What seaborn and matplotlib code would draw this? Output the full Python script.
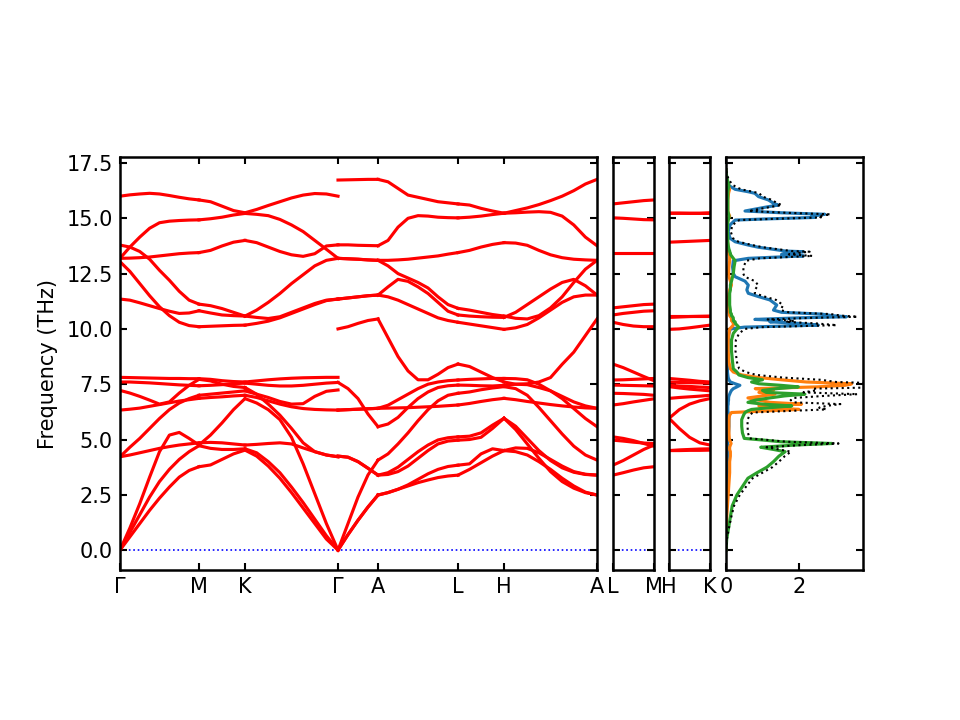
import matplotlib
matplotlib.use("Agg")
import matplotlib.pyplot as plt
import seaborn as sns
import pandas as pd
import numpy as np

# Chemin de bandes : longueurs des segments et étiquettes des points spéciaux
seg_main = [79, 46, 93, 40, 80, 46, 93]
labels_main = ["Γ", "M", "K", "Γ", "A", "L", "H", "A"]
seg_lm = [41]
labels_lm = ["L", "M"]
seg_hk = [41]
labels_hk = ["H", "K"]

# Fréquences (THz) lues sur chaque segment, une liste par branche
gamma_m = [
    [0, 0.6, 1.2, 1.8, 2.35, 2.85, 3.3, 3.6, 3.77],
    [0, 0.8, 1.6, 2.4, 3.1, 3.65, 4.1, 4.45, 4.72],
    [0, 1.0, 2.1, 3.3, 4.45, 5.2, 5.32, 5.05, 4.75],
    [4.22, 4.3, 4.4, 4.5, 4.6, 4.68, 4.75, 4.8, 4.85],
    [4.22, 4.65, 5.05, 5.5, 5.95, 6.35, 6.65, 6.85, 7.0],
    [6.33, 6.37, 6.42, 6.5, 6.58, 6.66, 6.74, 6.8, 6.86],
    [7.22, 7.1, 6.95, 6.78, 6.6, 6.7, 7.1, 7.45, 7.72],
    [7.6, 7.6, 7.58, 7.56, 7.53, 7.5, 7.47, 7.45, 7.43],
    [7.81, 7.8, 7.79, 7.78, 7.77, 7.76, 7.76, 7.75, 7.75],
    [11.35, 11.3, 11.18, 11.05, 10.92, 10.8, 10.7, 10.72, 10.82],
    [13.04, 12.6, 12.05, 11.5, 11.0, 10.6, 10.3, 10.15, 10.1],
    [13.79, 13.7, 13.5, 13.15, 12.65, 12.2, 11.7, 11.3, 11.12],
    [13.19, 13.2, 13.22, 13.25, 13.3, 13.35, 13.4, 13.43, 13.45],
    [13.19, 13.7, 14.15, 14.55, 14.8, 14.87, 14.9, 14.92, 14.93],
    [16.0, 16.06, 16.1, 16.13, 16.1, 16.03, 15.95, 15.88, 15.83],
]
m_k = [
    [3.77, 3.85, 4.1, 4.35, 4.52],
    [4.72, 4.6, 4.55, 4.55, 4.58],
    [4.75, 5.2, 5.75, 6.35, 6.85],
    [4.85, 4.87, 4.85, 4.8, 4.75],
    [7.0, 7.05, 7.1, 7.15, 7.2],
    [6.86, 6.9, 6.93, 6.97, 7.0],
    [7.72, 7.65, 7.5, 7.4, 7.35],
    [7.43, 7.45, 7.48, 7.52, 7.55],
    [7.75, 7.72, 7.66, 7.62, 7.6],
    [10.82, 10.72, 10.63, 10.6, 10.58],
    [10.1, 10.12, 10.14, 10.16, 10.17],
    [11.12, 11.05, 10.92, 10.75, 10.58],
    [13.45, 13.55, 13.75, 13.92, 14.0],
    [14.93, 14.98, 15.05, 15.15, 15.22],
    [15.83, 15.75, 15.55, 15.35, 15.25],
]
k_gamma = [
    [4.52, 4.25, 3.8, 3.25, 2.6, 1.9, 1.2, 0.5, 0],
    [4.58, 4.4, 4.0, 3.5, 2.85, 2.15, 1.4, 0.65, 0],
    [6.85, 6.65, 6.35, 5.9, 5.1, 3.9, 2.55, 1.2, 0],
    [4.75, 4.78, 4.82, 4.85, 4.8, 4.62, 4.45, 4.3, 4.22],
    [7.2, 7.05, 6.9, 6.72, 6.6, 6.62, 6.95, 7.18, 7.24],
    [7.0, 6.9, 6.75, 6.6, 6.48, 6.4, 6.36, 6.34, 6.33],
    [7.35, 7.05, 6.6, 6.1, 5.5, 4.85, 4.45, 4.3, 4.22],
    [7.55, 7.5, 7.45, 7.42, 7.42, 7.45, 7.5, 7.55, 7.58],
    [7.6, 7.65, 7.7, 7.74, 7.77, 7.79, 7.8, 7.81, 7.81],
    [10.58, 10.52, 10.47, 10.55, 10.75, 10.95, 11.15, 11.3, 11.35],
    [10.17, 10.25, 10.35, 10.5, 10.7, 10.9, 11.1, 11.28, 11.35],
    [10.58, 10.85, 11.2, 11.6, 12.05, 12.45, 12.85, 13.1, 13.19],
    [14.0, 13.9, 13.7, 13.5, 13.35, 13.28, 13.4, 13.75, 13.8],
    [15.22, 15.18, 15.12, 14.95, 14.7, 14.4, 14.0, 13.6, 13.19],
    [15.25, 15.4, 15.58, 15.75, 15.92, 16.05, 16.12, 16.1, 16.0],
]
gamma_a = [
    [0, 0.7, 1.35, 1.95, 2.49],
    [0, 0.7, 1.35, 1.95, 2.49],
    [0, 1.2, 2.4, 3.4, 4.07],
    [4.25, 4.2, 4.0, 3.7, 3.39],
    [4.25, 4.2, 4.0, 3.7, 3.39],
    [6.33, 6.35, 6.37, 6.39, 6.41],
    [6.33, 6.35, 6.37, 6.39, 6.41],
    [7.58, 7.3, 6.85, 6.15, 5.58],
    [10.0, 10.1, 10.25, 10.38, 10.45],
    [11.35, 11.4, 11.45, 11.5, 11.53],
    [11.35, 11.4, 11.45, 11.5, 11.53],
    [13.19, 13.17, 13.15, 13.12, 13.1],
    [13.19, 13.17, 13.15, 13.12, 13.1],
    [13.8, 13.8, 13.78, 13.77, 13.76],
    [16.73, 16.74, 16.75, 16.76, 16.76],
]
a_l = [
    [2.49, 2.6, 2.75, 2.9, 3.05, 3.17, 3.28, 3.35, 3.39],
    [2.49, 2.6, 2.75, 2.95, 3.2, 3.45, 3.65, 3.78, 3.84],
    [3.39, 3.42, 3.55, 3.8, 4.15, 4.5, 4.8, 4.93, 4.97],
    [3.39, 3.5, 3.75, 4.1, 4.45, 4.75, 4.98, 5.08, 5.12],
    [4.07, 4.35, 4.8, 5.3, 5.85, 6.35, 6.75, 7.0, 7.09],
    [5.58, 5.7, 6.0, 6.45, 6.85, 7.15, 7.35, 7.43, 7.46],
    [6.41, 6.42, 6.43, 6.44, 6.46, 6.48, 6.5, 6.53, 6.56],
    [6.41, 6.55, 6.8, 7.05, 7.3, 7.5, 7.6, 7.66, 7.69],
    [10.45, 9.6, 8.75, 8.1, 7.7, 7.7, 7.95, 8.25, 8.41],
    [11.53, 11.45, 11.3, 11.1, 10.9, 10.7, 10.5, 10.38, 10.3],
    [11.53, 11.9, 12.24, 12.15, 11.9, 11.6, 11.2, 10.8, 10.63],
    [13.1, 12.85, 12.5, 12.3, 12.1, 11.85, 11.45, 11.1, 10.93],
    [13.1, 13.1, 13.12, 13.15, 13.2, 13.25, 13.3, 13.38, 13.45],
    [13.76, 14.0, 14.6, 15.0, 15.12, 15.1, 15.05, 15.03, 15.02],
    [16.76, 16.65, 16.35, 16.05, 15.95, 15.85, 15.75, 15.7, 15.65],
]
l_h = [
    [3.39, 3.65, 3.95, 4.25, 4.5],
    [3.84, 3.9, 4.35, 4.58, 4.5],
    [4.97, 5.0, 5.1, 5.5, 5.96],
    [5.12, 5.15, 5.3, 5.65, 5.96],
    [6.56, 6.63, 6.72, 6.8, 6.86],
    [7.09, 7.15, 7.25, 7.33, 7.39],
    [7.46, 7.45, 7.43, 7.42, 7.45],
    [7.69, 7.72, 7.74, 7.76, 7.76],
    [8.41, 8.3, 8.05, 7.8, 7.6],
    [10.3, 10.22, 10.14, 10.06, 9.98],
    [10.63, 10.58, 10.55, 10.53, 10.52],
    [10.93, 10.85, 10.75, 10.65, 10.58],
    [13.45, 13.55, 13.7, 13.82, 13.9],
    [15.02, 15.05, 15.1, 15.17, 15.23],
    [15.65, 15.6, 15.45, 15.33, 15.23],
]
h_a = [
    [4.5, 4.45, 4.3, 4.0, 3.65, 3.25, 2.9, 2.62, 2.49],
    [4.5, 4.62, 4.6, 4.4, 4.1, 3.8, 3.55, 3.43, 3.39],
    [5.96, 5.45, 4.8, 4.15, 3.55, 3.1, 2.8, 2.6, 2.49],
    [5.96, 5.6, 5.05, 4.5, 4.05, 3.72, 3.52, 3.42, 3.39],
    [6.86, 6.8, 6.72, 6.65, 6.58, 6.52, 6.47, 6.43, 6.41],
    [7.39, 7.3, 7.0, 6.45, 5.85, 5.25, 4.7, 4.3, 4.07],
    [7.45, 7.5, 7.48, 7.35, 7.2, 6.85, 6.4, 5.95, 5.58],
    [7.76, 7.75, 7.7, 7.5, 7.2, 6.95, 6.7, 6.52, 6.41],
    [7.6, 7.5, 7.52, 7.6, 7.8, 8.4, 8.95, 9.7, 10.45],
    [9.98, 10.05, 10.2, 10.5, 10.85, 11.2, 11.45, 11.53, 11.53],
    [10.52, 10.75, 11.1, 11.45, 11.8, 12.1, 12.24, 11.95, 11.53],
    [10.58, 10.48, 10.45, 10.6, 10.95, 11.45, 12.1, 12.7, 13.1],
    [13.9, 13.88, 13.78, 13.55, 13.35, 13.22, 13.15, 13.12, 13.1],
    [15.23, 15.25, 15.28, 15.3, 15.27, 15.1, 14.7, 14.15, 13.76],
    [15.23, 15.35, 15.47, 15.62, 15.8, 16.0, 16.25, 16.55, 16.76],
]
l_m = [
    [3.39, 3.5, 3.62, 3.72, 3.77],
    [3.84, 4.05, 4.3, 4.55, 4.75],
    [4.97, 4.93, 4.88, 4.84, 4.82],
    [5.12, 5.05, 4.95, 4.82, 4.7],
    [6.56, 6.62, 6.7, 6.77, 6.84],
    [7.09, 7.08, 7.06, 7.04, 7.0],
    [7.46, 7.45, 7.44, 7.43, 7.42],
    [7.69, 7.7, 7.72, 7.74, 7.76],
    [8.41, 8.25, 8.05, 7.85, 7.66],
    [10.3, 10.2, 10.13, 10.1, 10.1],
    [10.63, 10.7, 10.75, 10.8, 10.82],
    [10.95, 11.0, 11.05, 11.1, 11.12],
    [13.45, 13.45, 13.45, 13.45, 13.45],
    [15.02, 15.0, 14.97, 14.94, 14.93],
    [15.65, 15.7, 15.75, 15.8, 15.83],
]
h_k = [
    [4.5, 4.5, 4.51, 4.51, 4.52],
    [4.5, 4.53, 4.55, 4.57, 4.58],
    [5.96, 5.5, 5.1, 4.85, 4.75],
    [5.96, 6.35, 6.6, 6.75, 6.85],
    [6.86, 6.9, 6.93, 6.96, 7.0],
    [7.39, 7.33, 7.28, 7.24, 7.2],
    [7.45, 7.42, 7.4, 7.37, 7.35],
    [7.6, 7.58, 7.57, 7.56, 7.55],
    [7.76, 7.72, 7.68, 7.63, 7.6],
    [9.98, 10.0, 10.05, 10.11, 10.17],
    [10.52, 10.54, 10.56, 10.57, 10.58],
    [10.58, 10.58, 10.58, 10.58, 10.58],
    [13.92, 13.94, 13.96, 13.98, 14.0],
    [15.23, 15.23, 15.22, 15.22, 15.22],
    [15.23, 15.23, 15.23, 15.23, 15.25],
]

# Densité d'états partielle (3 espèces) sur une grille de fréquences
dos_freq = [0.0, 0.5, 1.0, 1.5, 2.0, 2.5, 3.0, 3.25, 3.5, 3.75, 4.0, 4.25, 4.45,
            4.55, 4.65, 4.75, 4.82, 4.9, 4.97, 5.05, 5.3, 5.6, 5.9, 6.1, 6.22,
            6.3, 6.36, 6.44, 6.52, 6.6, 6.68, 6.78, 6.88, 6.97, 7.05, 7.13,
            7.22, 7.3, 7.38, 7.45, 7.52, 7.6, 7.7, 7.8, 7.92, 8.05, 8.2, 8.5,
            9.0, 9.5, 9.8, 10.0, 10.08, 10.17, 10.25, 10.32, 10.37, 10.43, 10.5,
            10.55, 10.6, 10.67, 10.75, 10.85, 11.08, 11.31, 11.46, 11.61, 11.76,
            11.98, 12.16, 12.36, 12.51, 12.8, 13.08, 13.19, 13.3, 13.37, 13.42,
            13.49, 13.52, 13.61, 13.69, 13.79, 13.94, 14.1, 14.4, 14.7, 14.92,
            14.97, 15.04, 15.1, 15.18, 15.25, 15.33, 15.5, 15.6, 15.68, 15.83,
            15.98, 16.13, 16.2, 16.31, 16.5, 16.73, 17.0, 17.2]
dos_sp1 = [0, 0, 0, 0.005, 0.01, 0.02, 0.03, 0.04, 0.05, 0.05, 0.05, 0.04, 0.04,
           0.05, 0.06, 0.05, 0.04, 0.04, 0.05, 0.06, 0.07, 0.08, 0.08, 0.07, 0.06,
           0.05, 0.05, 0.05, 0.05, 0.06, 0.06, 0.07, 0.07, 0.08, 0.1, 0.12,
           0.15, 0.2, 0.3, 0.38, 0.25, 0.12, 0.08, 0.06, 0.05, 0.04, 0.04, 0.04,
           0.05, 0.06, 0.08, 0.12, 0.5, 2.53, 2.0, 1.2, 1.52, 0.79, 2.0,
           3.3, 2.9, 2.62, 1.52, 1.3, 1.39, 1.2, 0.89, 0.61, 0.57,
           0.61, 0.52, 0.25, 0.2, 0.18, 0.2, 0.61, 2.12, 1.52, 1.71,
           2.12, 1.62, 1.25, 0.89, 0.61, 0.25, 0.11, 0.06, 0.11, 0.25,
           1.07, 2.44, 2.35, 2.71, 1.52, 0.52, 1.07, 1.43, 1.3, 1.16,
           0.89, 0.79, 0.61, 0.25, 0.06, 0.02, 0.005, 0]
dos_sp2 = [0, 0.005, 0.01, 0.02, 0.04, 0.06, 0.08, 0.09, 0.1, 0.1, 0.1, 0.12, 0.12,
           0.1, 0.1, 0.12, 0.14, 0.12, 0.1, 0.09, 0.08, 0.08, 0.08, 0.1, 0.15,
           1.2, 2.0, 1.3, 0.9, 2.07, 1.2, 0.9, 0.6, 1.0, 1.34, 0.9,
           1.3, 0.8, 2.5, 3.26, 3.44, 2.2, 1.52, 0.9, 0.43, 0.2, 0.12, 0.08,
           0.06, 0.06, 0.08, 0.1, 0.15, 0.2, 0.2, 0.18, 0.15, 0.15, 0.15,
           0.12, 0.1, 0.1, 0.08, 0.08, 0.07, 0.07, 0.07, 0.08, 0.1,
           0.15, 0.12, 0.08, 0.07, 0.08, 0.1, 0.1, 0.1, 0.08, 0.08,
           0.07, 0.07, 0.06, 0.05, 0.05, 0.04, 0.03, 0.03, 0.03, 0.05,
           0.06, 0.08, 0.1, 0.08, 0.06, 0.05, 0.05, 0.05, 0.05, 0.05,
           0.06, 0.07, 0.08, 0.1, 0.05, 0.02, 0.005, 0]
dos_sp3 = [0, 0.02, 0.07, 0.12, 0.17, 0.3, 0.5, 0.6, 0.85, 1.12, 1.3, 1.45, 1.62,
           1.3, 0.95, 1.9, 2.9, 1.5, 1.05, 0.5, 0.45, 0.43, 0.43, 0.48, 0.52,
           0.6, 0.7, 1.2, 1.8, 1.0, 0.6, 0.8, 1.2, 1.6, 2.16, 1.1,
           1.0, 1.4, 1.98, 1.5, 0.9, 0.7, 1.0, 0.6, 0.35, 0.3, 0.2, 0.18,
           0.15, 0.15, 0.2, 0.3, 0.35, 0.3, 0.25, 0.25, 0.2, 0.2, 0.2,
           0.18, 0.15, 0.15, 0.12, 0.12, 0.1, 0.1, 0.1, 0.1, 0.12,
           0.12, 0.15, 0.18, 0.2, 0.22, 0.25, 0.2, 0.15, 0.12, 0.12,
           0.1, 0.1, 0.08, 0.07, 0.06, 0.05, 0.05, 0.04, 0.04, 0.06,
           0.07, 0.08, 0.08, 0.07, 0.06, 0.05, 0.05, 0.05, 0.05, 0.05,
           0.05, 0.05, 0.05, 0.06, 0.08, 0.04, 0.01, 0]

freq_lim = (-0.9, 17.77)
freq_ticks = [0, 2.5, 5, 7.5, 10, 12.5, 15, 17.5]


def tableau_bandes(segments, longueurs):
    """Construit un DataFrame long (distance, fréquence, branche) pour un panneau"""
    bornes = np.concatenate([[0], np.cumsum(longueurs)])
    lignes = []
    for i, branches in enumerate(segments):
        for j, valeurs in enumerate(branches):
            dist = np.linspace(bornes[i], bornes[i + 1], len(valeurs))
            for d, f in zip(dist, valeurs):
                lignes.append({"dist": d, "freq": f, "branche": f"{i}-{j}"})
    return pd.DataFrame(lignes), bornes


def style_axe(ax):
    ax.tick_params(direction="in", top=True, right=True, width=1, length=3.5,
                   labelsize=10)
    for spine in ax.spines.values():
        spine.set_linewidth(1.2)
    ax.set_ylim(*freq_lim)
    ax.set_yticks(freq_ticks)
    ax.set_xlabel("")
    ax.set_ylabel("")


def panneau_bandes(ax, segments, longueurs, etiquettes):
    df, bornes = tableau_bandes(segments, longueurs)
    sns.lineplot(data=df, x="dist", y="freq", units="branche", estimator=None,
                 color="red", linewidth=1.5, sort=False, legend=False, ax=ax)
    # ligne de référence à 0 THz
    ax.axhline(y=0, linestyle=":", linewidth=0.8, color="b", zorder=1)
    ax.set_xlim(bornes[0], bornes[-1])
    ax.set_xticks(bornes)
    ax.set_xticklabels(etiquettes)
    style_axe(ax)


fig = plt.figure(figsize=(6.4, 4.8), dpi=150)
ax1 = fig.add_axes([0.125, 0.2083, 0.4969, 0.5736])
ax2 = fig.add_axes([0.6385, 0.2083, 0.0427, 0.5736])
ax3 = fig.add_axes([0.6969, 0.2083, 0.0427, 0.5736])
ax4 = fig.add_axes([0.75625, 0.2083, 0.1427, 0.5736])

panneau_bandes(ax1, [gamma_m, m_k, k_gamma, gamma_a, a_l, l_h, h_a], seg_main, labels_main)
panneau_bandes(ax2, [l_m], seg_lm, labels_lm)
panneau_bandes(ax3, [h_k], seg_hk, labels_hk)
ax1.set_ylabel("Frequency (THz)", fontsize=10)
ax2.tick_params(labelleft=False)
ax3.tick_params(labelleft=False)

# DOS partielles + totale
dos_df = pd.DataFrame({
    "freq": dos_freq * 3,
    "dos": dos_sp1 + dos_sp2 + dos_sp3,
    "espece": ["sp1"] * len(dos_freq) + ["sp2"] * len(dos_freq) + ["sp3"] * len(dos_freq),
})
sns.lineplot(data=dos_df, x="dos", y="freq", hue="espece",
             palette=["#1f77b4", "#ff7f0e", "#2ca02c"], estimator=None,
             sort=False, orient="y", linewidth=1.5, legend=False, ax=ax4)
dos_total = np.array(dos_sp1) + np.array(dos_sp2) + np.array(dos_sp3)
sns.lineplot(x=dos_total, y=dos_freq, color="k", linestyle=":", linewidth=1.0,
             estimator=None, sort=False, orient="y", ax=ax4)
ax4.set_xlim(0, 3.75)
ax4.set_xticks([0, 2])
style_axe(ax4)
ax4.tick_params(labelleft=False)

plt.savefig("out.png", dpi=150)
plt.close()
